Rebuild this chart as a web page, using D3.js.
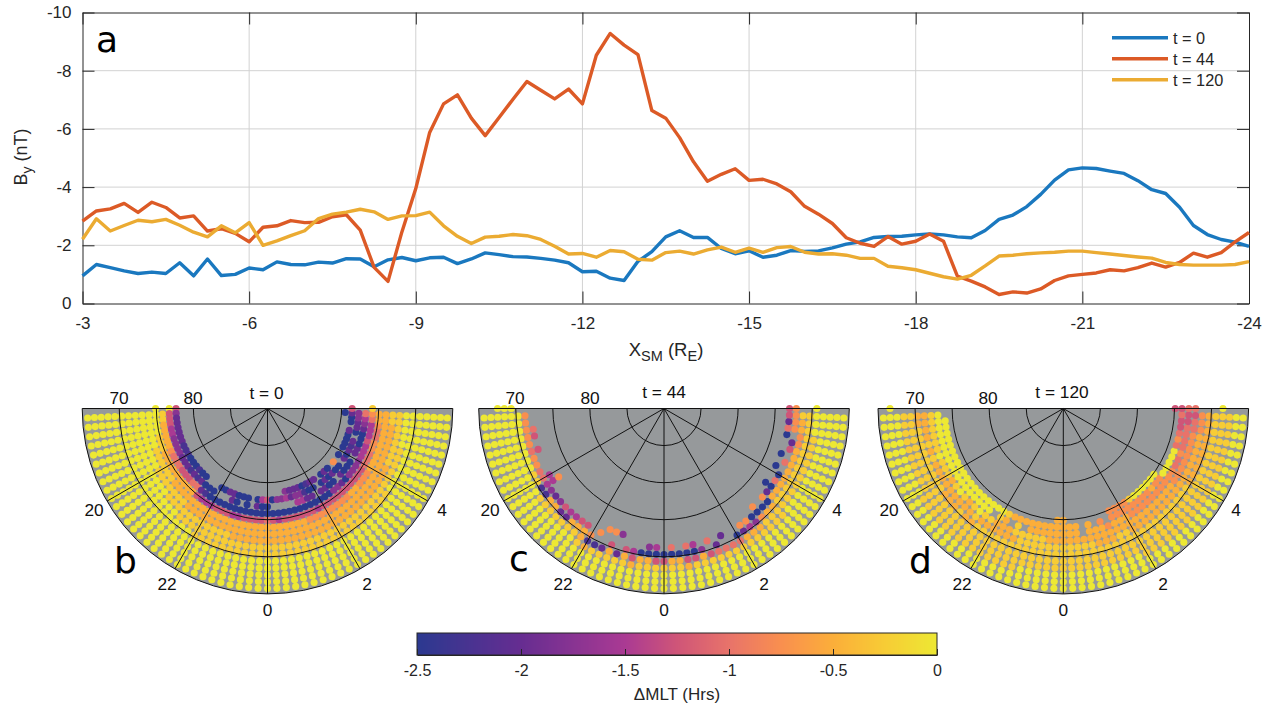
<!DOCTYPE html>
<html>
<head>
<meta charset="utf-8">
<script src="https://cdn.jsdelivr.net/npm/d3@7/dist/d3.min.js"></script>
<style>
html,body{margin:0;padding:0;background:#fff}
svg{display:block}
text{font-family:"Liberation Sans",Arial,sans-serif;fill:#262626}
.letter{font-family:"DejaVu Sans",sans-serif;fill:#000;font-size:36px}
</style>
</head>
<body>
<svg id="fig" width="1268" height="706"></svg>
<script>
// ---------- panel a data: By (nT) at XSM = -3, -3.25, ... -24
const xStart = -3, xStep = -0.25;
const byT0 = [-0.95,-1.34,-1.23,-1.12,-1.03,-1.08,-1.03,-1.40,-0.95,-1.53,-0.96,-1.0,-1.22,-1.16,-1.43,-1.34,-1.33,-1.42,-1.39,-1.54,-1.53,-1.26,-1.5,-1.58,-1.47,-1.57,-1.59,-1.37,-1.53,-1.74,-1.68,-1.61,-1.60,-1.55,-1.49,-1.40,-1.09,-1.11,-0.87,-0.79,-1.45,-1.78,-2.29,-2.50,-2.27,-2.27,-1.89,-1.71,-1.81,-1.59,-1.66,-1.82,-1.79,-1.81,-1.91,-2.04,-2.12,-2.27,-2.30,-2.31,-2.36,-2.39,-2.36,-2.29,-2.26,-2.51,-2.89,-3.04,-3.33,-3.75,-4.24,-4.59,-4.66,-4.64,-4.55,-4.47,-4.22,-3.91,-3.78,-3.31,-2.68,-2.37,-2.20,-2.11,-1.96];
const byT44 = [-2.83,-3.18,-3.25,-3.44,-3.13,-3.48,-3.30,-2.94,-3.01,-2.49,-2.57,-2.41,-2.12,-2.62,-2.67,-2.85,-2.78,-2.79,-2.98,-3.05,-2.52,-1.24,-0.76,-2.46,-3.95,-5.88,-6.86,-7.17,-6.37,-5.77,-6.39,-7.02,-7.63,-7.33,-7.03,-7.37,-6.86,-8.53,-9.28,-8.88,-8.55,-6.63,-6.37,-5.70,-4.87,-4.20,-4.44,-4.63,-4.23,-4.27,-4.11,-3.84,-3.34,-3.07,-2.75,-2.26,-2.07,-1.96,-2.30,-2.04,-2.14,-2.39,-2.14,-0.94,-0.77,-0.57,-0.31,-0.40,-0.36,-0.50,-0.79,-0.95,-1.0,-1.05,-1.16,-1.12,-1.23,-1.39,-1.25,-1.41,-1.73,-1.59,-1.75,-2.12,-2.44];
const byT120 = [-2.21,-2.91,-2.49,-2.68,-2.86,-2.81,-2.89,-2.69,-2.45,-2.29,-2.67,-2.43,-2.78,-2.0,-2.15,-2.33,-2.50,-2.92,-3.07,-3.14,-3.24,-3.15,-2.89,-3.01,-3.02,-3.14,-2.67,-2.31,-2.06,-2.28,-2.31,-2.37,-2.33,-2.20,-1.97,-1.70,-1.72,-1.59,-1.82,-1.78,-1.52,-1.49,-1.75,-1.80,-1.70,-1.84,-1.94,-1.76,-1.90,-1.76,-1.92,-1.96,-1.76,-1.70,-1.71,-1.66,-1.55,-1.55,-1.28,-1.23,-1.16,-1.04,-0.92,-0.84,-0.97,-1.29,-1.63,-1.66,-1.71,-1.74,-1.76,-1.80,-1.80,-1.75,-1.70,-1.65,-1.60,-1.56,-1.41,-1.34,-1.32,-1.32,-1.32,-1.34,-1.44];
const lineLabels = ["t = 0","t = 44","t = 120"];
const lineColors = ["#1a78bf","#dc5a26","#ebab32"];
const xTicks = [-3,-6,-9,-12,-15,-18,-21,-24];
const yTicks = [0,-2,-4,-6,-8,-10];

// ---------- polar panels: one string per MLT column (-6 h to +6 h, every 0.2 h);
// each character is one latitude row (outermost first, 65.7 deg upward, 0.92 deg apart);
// the character is the colour level, dMLT = -0.25 * level; "a" = level 10, "." = no dot.
const mltStart = -6, mltStep = 0.2, latStart = 65.7, latStep = 0.92, levelStep = -0.25;
const dotsB = [
"..........0.05","00000000000157","00000000000158","00000000000258","00000000000268","00000000001268","00000000001278","00000000011278","00000000012379","00000000012479",
"00000000112489","0000000011248a","0000000011258a","0000000012259a","00000001122589","0000000112249a","0000000112248a","000000112258a","000000112269a","00000011226aa",
"00000111226a.a","00000111225a.a","00000111225a.8","00000111225a88","00000111226aaa","00000112226a.a","00000112225aaa","00000112225a.","00000112225a8a","00000112225aa6",
"00000112224aa5","00000112225a.a","00000112226a.7","00000112225a.7","00000112225a.67","00000112225a.88","00000112225a678","00000112235a678","00000112235a89a","00000112236a8a9",
"00000112235a.a8","00000112235a8.8","00000112235a8a","000001122357a8a","000001122357aa8","000001122258.8a","00000112225a8a","000001122357aa3","000001122357a.","000000122357a8a",
"000000122247.a","00000012224688a","00000011224689a","000000112236a8a","000000112235a.a","000000012246aa8","00000001224688.","00000001223678a","00000001122467a","000000011223478a",
"...........1..5"];
const dotsC = [
"..000.","0000003","0000003","00000034","00000035","0000003","00000045","0000003","0000003","0000014",
"00000146","000009663","0000197","0000128","0000127","0000185","0000186","0000126","0000125","0001225",
"000293","00019.3","00018..3","000125.3","00018..7","000125","000256","00012a","00012a7","00015a6",
"00015a","00012a4","00012a","00025a4","00015a6","000127","00015.4","000148","00014.8","00014",
"00014a","0001283","0001263","000127a","000113a3","000112a","000112a3","00001128","0000112aa","00001124",
"0000112a","0000112.a","00001124","0000112.a","00001125","00001138","0000113.a","000001234","000001238","000001135",
"....0..35"];
const dotsD = [
".0","000112210","0001122100","0001112100","0001112100","0001111100","0001112100","0001111000","0001112100","0001112100",
"0001112100","0011112200","0011122100","0011122000","0011122100","0011112200","0011122100","0011121000","0011112100","00111121.0",
"0011112210","0011112221","00111122.2","0011112112","00111111.2","0001111122","0001111122","0001111122","0001111222","00011112222",
"00011112222","0001111222","0001111222","00011112","0001111222","000111222","0001112223","000111223","00011112233","00011112233",
"00111122233","00111122333","00111122331","00111122330","00111122330","00111122330","00111122320","00111122330","00111122330","0011112330",
"0011122330","0011122340","0011122340","0011122330","0011122344","0011122343","0011122344","0011123445","0011123455","0011123554",
"...0...4455"];
const ringLats = [85,80,75,70];
const spokeMlts = [-4,-2,0,2,4];
const cbTicks = [-2.5,-2,-1.5,-1,-0.5,0];
const cmapStops = [-2.5,-2,-1.5,-1.25,-1,-0.75,-0.5,-0.25,0];
const cmapColors = ["#2b3990","#662d91","#aa3a93","#cf5578","#e8736a","#f98f4f","#fbae3a","#f7cc35","#ede833"];

// ---------- layout
const svg = d3.select("#fig");
const color = d3.scaleLinear().domain(cmapStops).range(cmapColors);
const fmt = d => String(d);

// ---------- panel a
const L=82.5,R=1249,T=12.5,B=303.5;
const x = d3.scaleLinear().domain([-3,-24]).range([L,R]);
const y = d3.scaleLinear().domain([0,-10]).range([B,T]);
const a = svg.append("g");
a.append("g").selectAll("line").data(xTicks.slice(1,-1)).join("line")
  .attr("x1",d=>x(d)).attr("x2",d=>x(d)).attr("y1",T).attr("y2",B).attr("stroke","#d2d2d2").attr("stroke-width",1);
a.append("g").selectAll("line").data(yTicks.slice(1,-1)).join("line")
  .attr("y1",d=>y(d)).attr("y2",d=>y(d)).attr("x1",L).attr("x2",R).attr("stroke","#d2d2d2").attr("stroke-width",1);
function styleAxis(g,fs){
  g.selectAll("path").attr("stroke","#262626").attr("stroke-width",1);
  g.selectAll("line").attr("stroke","#262626").attr("stroke-width",1);
  g.selectAll("text").style("font-size",fs+"px").style("fill","#262626");
  g.attr("font-family",null).attr("font-size",null);
}
const tk=12;
a.append("g").attr("transform",`translate(0,${B})`).call(d3.axisBottom(x).tickValues(xTicks).tickFormat(fmt).tickSizeInner(-tk).tickSizeOuter(0).tickPadding(13)).call(styleAxis,17);
a.append("g").attr("transform",`translate(0,${T})`).call(d3.axisTop(x).tickValues(xTicks).tickFormat("").tickSizeInner(-tk).tickSizeOuter(0)).call(styleAxis,17);
a.append("g").attr("transform",`translate(${L},0)`).call(d3.axisLeft(y).tickValues(yTicks).tickFormat(fmt).tickSizeInner(-tk).tickSizeOuter(0).tickPadding(11)).call(styleAxis,17);
a.append("g").attr("transform",`translate(${R},0)`).call(d3.axisRight(y).tickValues(yTicks).tickFormat("").tickSizeInner(-tk).tickSizeOuter(0)).call(styleAxis,17);

const line = d3.line().x((d,i)=>x(xStart+xStep*i)).y(d=>y(d));
[byT0,byT44,byT120].forEach((s,i)=>{
  a.append("path").attr("d",line(s)).attr("fill","none").attr("stroke",lineColors[i]).attr("stroke-width",3.4).attr("stroke-linejoin","round");
});
// legend
lineLabels.forEach((t,i)=>{
  const ly=37.7+21*i;
  a.append("line").attr("x1",1112).attr("x2",1168).attr("y1",ly).attr("y2",ly).attr("stroke",lineColors[i]).attr("stroke-width",3.6);
  a.append("text").attr("x",1173).attr("y",ly+6).style("font-size","16.3px").text(t);
});
a.append("text").attr("class","letter").attr("x",96).attr("y",52).text("a");
// axis titles
const xl=a.append("text").attr("x",666).attr("y",356).attr("text-anchor","middle").style("font-size","18.5px");
xl.append("tspan").text("X");
xl.append("tspan").attr("dy",5).style("font-size","14.5px").text("SM");
xl.append("tspan").attr("dy",-5).text(" (R");
xl.append("tspan").attr("dy",5).style("font-size","14.5px").text("E");
xl.append("tspan").attr("dy",-5).text(")");
const yl=a.append("text").attr("transform","translate(27,157) rotate(-90)").attr("text-anchor","middle").style("font-size","18px");
yl.append("tspan").text("B");
yl.append("tspan").attr("dy",5).style("font-size","14px").text("y");
yl.append("tspan").attr("dy",-5).text(" (nT)");

// ---------- polar panels
const panels = [
 {dots:dotsB,cx:267.5,cy:408.5,title:"t = 0",tx:266.5,ty:399,letter:"b",lx:114,ly:573,lab70:119,lab80:193,lab20:94,lab4:442,lab22:167,lab2:367},
 {dots:dotsC,cx:664,cy:408.5,title:"t = 44",tx:664,ty:398,letter:"c",lx:509,ly:571,lab70:515,lab80:590,lab20:490,lab4:837,lab22:563,lab2:764},
 {dots:dotsD,cx:1063.3,cy:408.5,title:"t = 120",tx:1062,ty:398,letter:"d",lx:909,ly:573,lab70:915,lab80:988,lab20:889,lab4:1236,lab22:962,lab2:1163}
];
const r = d3.scaleLinear().domain([90,65]).range([0,185.3]);
const ang = d3.scaleLinear().domain([-6,6]).range([-Math.PI/2,Math.PI/2]);
panels.forEach(p=>{
  const g=svg.append("g");
  const px=(m,l)=>p.cx+r(l)*Math.sin(ang(m));
  const py=(m,l)=>p.cy+r(l)*Math.cos(ang(m));
  const half=d3.path(); half.moveTo(p.cx-r(65),p.cy); half.arc(p.cx,p.cy,r(65),Math.PI,0,true); half.closePath();
  g.append("path").attr("d",half.toString()).attr("fill","#96999b");
  const pts=[];
  p.dots.forEach((col,k)=>{
    [...col].forEach((c,j)=>{
      if(c===".")return;
      pts.push({mlt:mltStart+mltStep*k,lat:latStart+latStep*j,v:levelStep*parseInt(c,16)});
    });
  });
  g.append("g").selectAll("circle").data(pts).join("circle")
    .attr("cx",d=>px(d.mlt,d.lat)).attr("cy",d=>py(d.mlt,d.lat)).attr("r",3.55).attr("fill",d=>color(d.v));
  g.append("g").selectAll("path").data(ringLats).join("path")
    .attr("d",d=>{const q=d3.path();q.arc(p.cx,p.cy,r(d),Math.PI,0,true);return q.toString();})
    .attr("fill","none").attr("stroke","#111").attr("stroke-width",1);
  g.append("g").selectAll("line").data(spokeMlts).join("line")
    .attr("x1",p.cx).attr("y1",p.cy).attr("x2",d=>px(d,65)).attr("y2",d=>py(d,65))
    .attr("stroke","#111").attr("stroke-width",1);
  g.append("path").attr("d",half.toString()).attr("fill","none").attr("stroke","#111").attr("stroke-width",1);
  const lab=(t,xx,yy)=>g.append("text").attr("x",xx).attr("y",yy).attr("text-anchor","middle").style("font-size","17.3px").style("fill","#111").text(t);
  lab("70",p.lab70,404); lab("80",p.lab80,404); lab(p.title,p.tx,p.ty);
  lab("20",p.lab20,516); lab("4",p.lab4,516); lab("22",p.lab22,590); lab("2",p.lab2,590); lab("0",p.cx,616);
  g.append("text").attr("class","letter").attr("x",p.lx).attr("y",p.ly).text(p.letter);
});

// ---------- colour bar
const cbX=d3.scaleLinear().domain([-2.5,0]).range([417,937]);
const cbT=633,cbB=655;
const cb=svg.append("g");
cb.append("g").selectAll("rect").data(d3.range(417,937)).join("rect")
  .attr("x",d=>d).attr("width",1).attr("y",cbT).attr("height",cbB-cbT).attr("shape-rendering","crispEdges").attr("fill",d=>color(cbX.invert(d+0.5)));
cb.append("rect").attr("x",417).attr("y",cbT).attr("width",520).attr("height",cbB-cbT).attr("fill","none").attr("stroke","#262626").attr("stroke-width",1);
cb.append("g").attr("transform",`translate(0,${cbB})`).call(d3.axisBottom(cbX).tickValues(cbTicks).tickFormat(fmt).tickSizeInner(-6).tickSizeOuter(0).tickPadding(10)).call(styleAxis,16);
cb.append("text").attr("x",677).attr("y",700).attr("text-anchor","middle").style("font-size","17px").text("ΔMLT (Hrs)");
</script>
</body>
</html>
